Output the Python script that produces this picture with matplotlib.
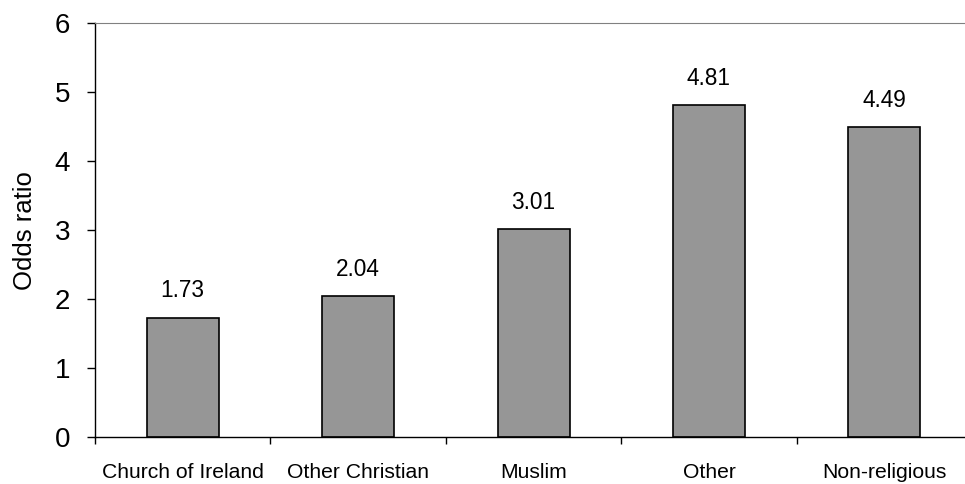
import matplotlib
matplotlib.use("Agg")
import matplotlib.pyplot as plt
import numpy as np

plt.rcParams['font.family'] = ['Liberation Sans', 'DejaVu Sans']

categories = ["Church of Ireland", "Other Christian", "Muslim", "Other", "Non-religious"]
odds_ratios = [1.73, 2.04, 3.01, 4.81, 4.49]
y_ticks = [0, 1, 2, 3, 4, 5, 6]

fig = plt.figure(figsize=(9.65, 4.84), dpi=100)
ax = fig.add_axes([0.0984, 0.097, 0.909, 0.855])

x = np.arange(len(categories))
bars = ax.bar(x, odds_ratios, width=0.41, color="#969696", edgecolor="black", linewidth=1.2)

for xi, v in zip(x, odds_ratios):
    ax.annotate(f"{v:.2f}", (xi, v), xytext=(0, 11), textcoords="offset points",
                ha="center", va="bottom", fontsize=16.3)

ax.set_xlim(-0.5, len(categories) - 0.5)
ax.set_ylim(0, 6)
ax.set_yticks(y_ticks)
ax.set_yticklabels([str(t) for t in y_ticks], fontsize=20)
ax.set_ylabel("Odds ratio", fontsize=18.5)
ax.yaxis.set_label_coords(-0.066, 0.5)

ax.set_xticks(x)
ax.set_xticklabels(categories, fontsize=15.2)
ax.tick_params(axis="x", which="major", length=0, pad=19)
ax.set_xticks(np.arange(len(categories) + 1) - 0.5, minor=True)
ax.tick_params(axis="x", which="minor", length=5, width=1)
ax.tick_params(axis="y", length=6, width=1, pad=12)

ax.spines["right"].set_visible(False)
ax.spines["top"].set_color("#808080")
ax.spines["left"].set_linewidth(1)
ax.spines["bottom"].set_linewidth(1)

fig.savefig("out.png", dpi=100)
